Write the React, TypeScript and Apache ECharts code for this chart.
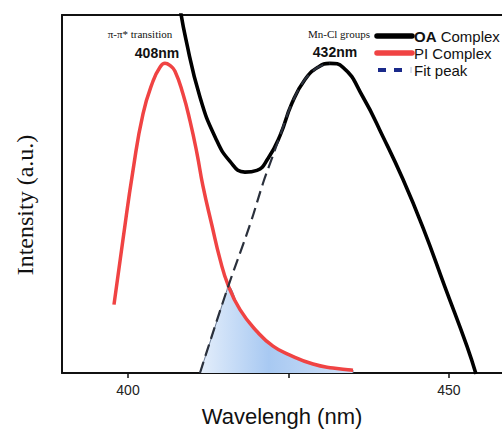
import React, { useEffect, useRef } from "react";
import * as echarts from "echarts";

// PI Complex (red)
const piX = [397.82, 399.22, 400.78, 402.34, 403.89, 404.98, 405.76, 406.54, 407.32, 408.57, 409.66, 410.75, 411.68, 413.08, 414.33, 415.58, 417.45, 420.09, 422.59, 425.23, 428.82, 431.93, 435.05];
const piY = [19.1, 37.3, 56.6, 72.4, 81.5, 85.4, 86.5, 85.9, 84.3, 77.9, 70.4, 61.3, 52.2, 41.2, 31.8, 24.6, 17.7, 11.6, 7.5, 5.0, 2.5, 1.4, 0.8];

// OA Complex (black)
const oaX = [407.94, 409.03, 411.21, 413.55, 415.89, 418.22, 420.09, 421.81, 423.68, 425.55, 427.57, 429.6, 431.46, 433.49, 436.6, 439.72, 442.83, 445.95, 449.38, 452.8, 454.21];
const oaY = [103.9, 93.1, 77.1, 66.0, 59.1, 56.1, 56.6, 59.9, 66.3, 75.4, 82.0, 85.4, 86.5, 85.4, 77.1, 66.0, 54.1, 40.6, 24.0, 7.5, -0.3];

// Fit peak (dashed)
const fitX = [411.21, 415.42, 419.0, 421.03, 422.43, 423.68, 425.55, 427.57, 429.6, 431.46];
const fitY = [0, 23.2, 41.4, 53.0, 60.0, 66.3, 75.4, 82.0, 85.4, 86.5];

// Shaded overlap region
const areaX = [411.21, 415.42, 415.58, 417.45, 420.09, 422.59, 425.23, 428.82, 431.93, 435.05, 435.05];
const areaY = [0, 23.2, 24.3, 17.7, 11.6, 7.5, 5.0, 2.5, 1.4, 0.8, 0];

const tickValues = [400, 425, 450];
const labelValues = [400, 450];
const legendNames = ["OA Complex", "PI Complex", "Fit peak"];

const zip = (xs: number[], ys: number[]) => xs.map((x, i) => [x, ys[i]]);

export default function App() {
  const ref = useRef<HTMLDivElement>(null);
  useEffect(() => {
    if (!ref.current) return;
    const chart = echarts.init(ref.current, undefined, { renderer: "svg" });
    const sans = "Liberation Sans";
    const serif = "Liberation Serif";
    const red = "#f04343";
    const lgY = [36, 53, 70];
    chart.setOption({
      animation: false,
      backgroundColor: "#fff",
      grid: { left: 62, top: 15, right: 0, bottom: 55 },
      xAxis: [
        {
          type: "value",
          min: 389.72,
          max: 458.26,
          name: "Wavelengh (nm)",
          nameLocation: "middle",
          nameGap: 32,
          nameTextStyle: { fontFamily: sans, fontSize: 22, color: "#111" },
          axisLine: { show: true, onZero: false, lineStyle: { color: "#111", width: 2 } },
          axisTick: { show: true, customValues: tickValues, length: 5, inside: false, lineStyle: { color: "#111", width: 1.5 } },
          axisLabel: { customValues: labelValues, fontFamily: sans, fontSize: 14, color: "#222", margin: 10 },
          splitLine: { show: false },
        },
        {
          type: "value",
          position: "top",
          min: 389.72,
          max: 458.26,
          axisLine: { show: true, onZero: false, lineStyle: { color: "#111", width: 2 } },
          axisTick: { show: false },
          axisLabel: { show: false },
          splitLine: { show: false },
        },
      ],
      yAxis: {
        type: "value",
        min: 0,
        max: 100,
        axisLine: { show: true, onZero: false, lineStyle: { color: "#111", width: 2 } },
        axisTick: { show: false },
        axisLabel: { show: false },
        splitLine: { show: false },
      },
      graphic: [
        { type: "text", x: 25, y: 205, rotation: Math.PI / 2, style: { text: "Intensity (a.u.)", font: `24px "${serif}"`, fill: "#111", textAlign: "center", textVerticalAlign: "middle" } },
        { type: "text", x: 140, y: 34, style: { text: "π-π* transition", font: `11px "${serif}"`, fill: "#111", textAlign: "center", textVerticalAlign: "middle" } },
        { type: "text", x: 157, y: 53, style: { text: "408nm", font: `bold 14px "${sans}"`, fill: "#111", textAlign: "center", textVerticalAlign: "middle" } },
        { type: "text", x: 339, y: 34, style: { text: "Mn-Cl groups", font: `11px "${serif}"`, fill: "#111", textAlign: "center", textVerticalAlign: "middle" } },
        { type: "text", x: 335, y: 52, style: { text: "432nm", font: `bold 14px "${sans}"`, fill: "#111", textAlign: "center", textVerticalAlign: "middle" } },
        // legend
        { type: "line", shape: { x1: 377, y1: lgY[0], x2: 412, y2: lgY[0] }, style: { stroke: "#000", lineWidth: 5.5, lineCap: "round" }, z: 10 },
        { type: "line", shape: { x1: 377, y1: lgY[1], x2: 412, y2: lgY[1] }, style: { stroke: red, lineWidth: 5.5, lineCap: "round" }, z: 10 },
        { type: "line", shape: { x1: 378, y1: lgY[2], x2: 403, y2: lgY[2] }, style: { stroke: "#1a2a8a", lineWidth: 4, lineDash: [8, 8] }, z: 10 },
        { type: "line", shape: { x1: 411, y1: lgY[2] - 3, x2: 411, y2: lgY[2] + 3 }, style: { stroke: "#b8c4e0", lineWidth: 1 }, z: 10 },
        {
          type: "text", x: 414, y: lgY[0], z: 10,
          style: { text: "{b|OA} Complex", font: `15px "${sans}"`, fill: "#111", textVerticalAlign: "middle", rich: { b: { fontFamily: sans, fontSize: 15, fontWeight: "bold", fill: "#111" } } },
        },
        { type: "text", x: 414, y: lgY[1], z: 10, style: { text: legendNames[1], font: `15px "${sans}"`, fill: "#111", textVerticalAlign: "middle" } },
        { type: "text", x: 414, y: lgY[2], z: 10, style: { text: legendNames[2], font: `15px "${sans}"`, fill: "#111", textVerticalAlign: "middle" } },
      ],
      series: [
        {
          name: "overlap",
          type: "line",
          data: zip(areaX, areaY),
          symbol: "none",
          smooth: 0.4,
          lineStyle: { color: "#6a7a94", width: 1 },
          areaStyle: {
            origin: "start",
            opacity: 1,
            color: new echarts.graphic.LinearGradient(0, 0, 1, 0, [
              { offset: 0, color: "#e4eefb" },
              { offset: 0.45, color: "#a8c9f2" },
              { offset: 1, color: "#cfe0f7" },
            ]),
          },
          z: 1,
        },
        {
          name: legendNames[1],
          type: "line",
          data: zip(piX, piY),
          symbol: "none",
          smooth: 0.5,
          lineStyle: { color: red, width: 3.5 },
          itemStyle: { color: red },
          z: 2,
        },
        {
          name: legendNames[0],
          type: "line",
          data: zip(oaX, oaY),
          symbol: "none",
          smooth: 0.5,
          lineStyle: { color: "#000", width: 3.6 },
          itemStyle: { color: "#000" },
          z: 3,
        },
        {
          name: legendNames[2],
          type: "line",
          data: zip(fitX, fitY),
          symbol: "none",
          smooth: 0.4,
          lineStyle: { color: "#2a303c", width: 2.2, type: [12, 6] },
          itemStyle: { color: "#1a2a8a" },
          z: 4,
        },
      ],
    });
    return () => chart.dispose();
  }, []);
  return <div ref={ref} style={{ width: 502, height: 432, position: "absolute", left: 0, top: 0 }} />;
}
